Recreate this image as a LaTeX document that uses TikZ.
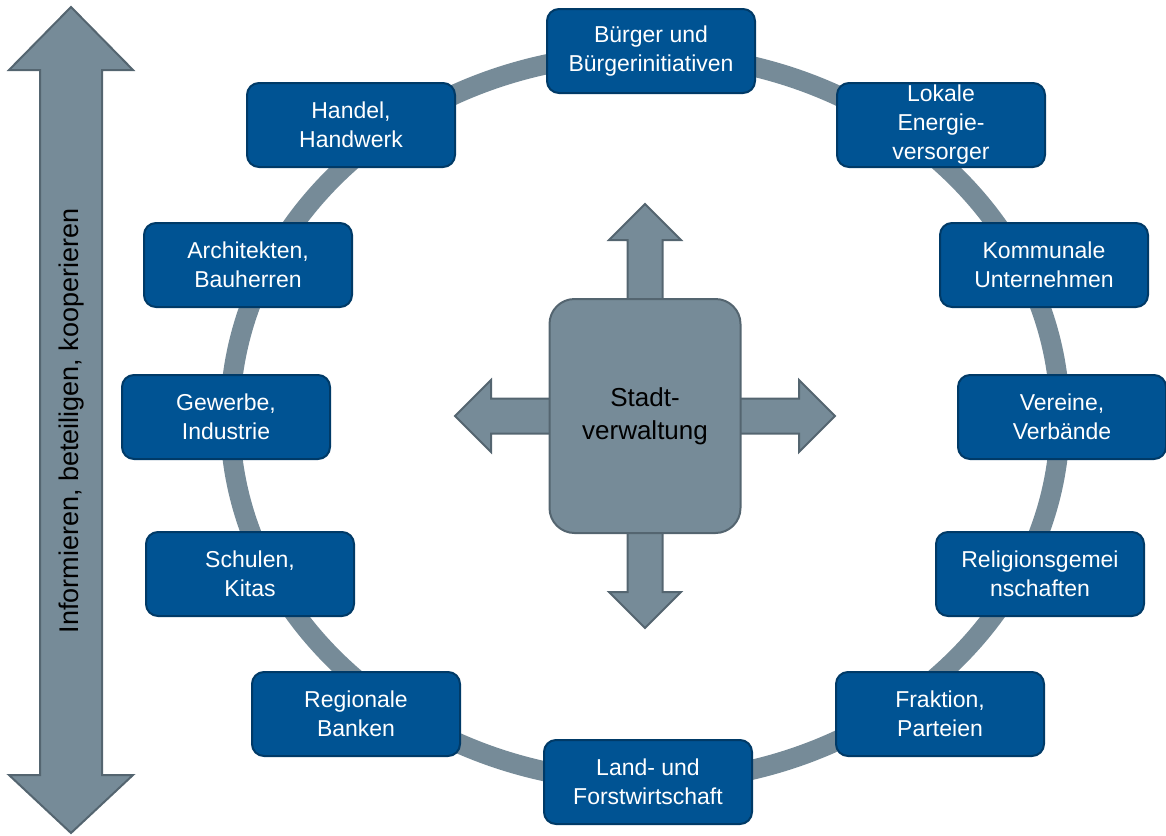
\documentclass[tikz,border=0pt]{standalone}
\usepackage{fontspec}
\setmainfont{Liberation Sans}
\usepackage{tikz}
\usetikzlibrary{calc}
\definecolor{boxblue}{RGB}{0,83,147}
\definecolor{boxedge}{RGB}{0,58,103}
\definecolor{ringgray}{RGB}{118,139,152}
\definecolor{arrowedge}{RGB}{84,101,112}
\tikzset{actor/.style={draw=boxedge,fill=boxblue,line width=2pt,rounded corners=12pt,minimum width=208pt,minimum height=84pt,inner sep=0pt,text=white,align=center,font=\fontsize{23}{29}\selectfont},
  blockarrow/.style={draw=arrowedge,fill=ringgray,line width=2pt,line join=miter},
  centerbox/.style={draw=arrowedge,fill=ringgray,line width=2pt,rounded corners=25pt,minimum width=191pt,minimum height=234pt,inner sep=0pt,align=center,font=\fontsize{26}{33}\selectfont}}

\begin{document}
\begin{tikzpicture}[x=1pt,y=-1pt]
\useasboundingbox (0,0) rectangle (1166,835);
% --- ring behind the actors
\draw[ringgray,line width=20pt] (645,418) ellipse [x radius=415pt, y radius=364pt];
% --- left double arrow
\draw[blockarrow] (71,7) -- (133,70) -- (102,70) -- (102,775) -- (133,775) -- (71,833) -- (9,775) -- (40,775) -- (40,70) -- (9,70) -- cycle;
\node[rotate=90,font=\fontsize{27}{32}\selectfont] (motto) at (72,421) {Informieren, beteiligen, kooperieren};
% --- four arrows out of the centre
\foreach \a/\l in {0/190,90/212,180/190,270/212}
  \draw[blockarrow,shift={(645,416)},rotate=\a] (0,-17.5) -- (\l-36,-17.5) -- (\l-36,-36) -- (\l,0) -- (\l-36,36) -- (\l-36,17.5) -- (0,17.5) -- cycle;
\node[centerbox] (stadt) at (645,416) {Stadt-\\verwaltung};
% --- actors round the ring
\node[actor] (buerger) at (651,51) {B\"urger und\\B\"urgerinitiativen};
\node[actor] (handel) at (351,125) {Handel,\\Handwerk};
\node[actor] (lokale) at (941,125) {Lokale\\Energie-\\versorger};
\node[actor] (architekten) at (248,265) {Architekten,\\Bauherren};
\node[actor] (kommunale) at (1044,265) {Kommunale\\Unternehmen};
\node[actor] (gewerbe) at (226,417) {Gewerbe,\\Industrie};
\node[actor] (vereine) at (1062,417) {Vereine,\\Verb\"ande};
\node[actor] (schulen) at (250,574) {Schulen,\\Kitas};
\node[actor] (religion) at (1040,574) {Religionsgemei\\nschaften};
\node[actor] (banken) at (356,714) {Regionale\\Banken};
\node[actor] (fraktion) at (940,714) {Fraktion,\\Parteien};
\node[actor] (landforst) at (648,782) {Land- und\\Forstwirtschaft};
\end{tikzpicture}
\end{document}
